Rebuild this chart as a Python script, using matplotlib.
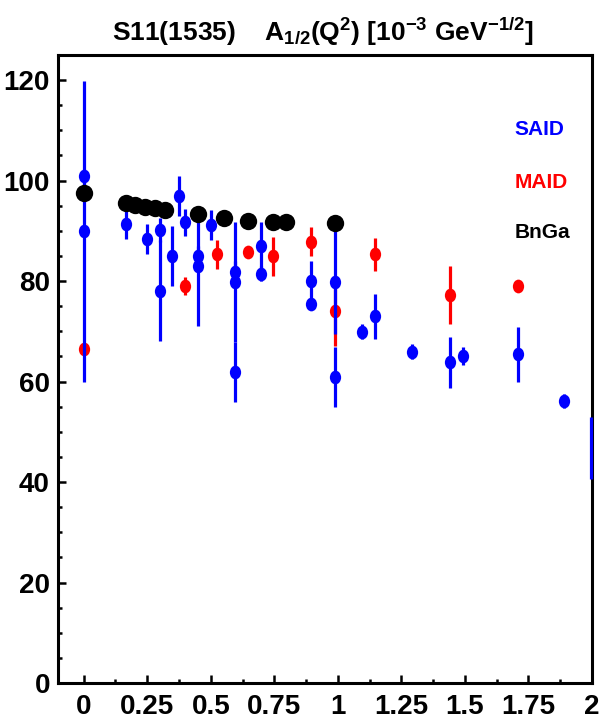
import matplotlib
matplotlib.use("Agg")
import matplotlib.pyplot as plt
from matplotlib.ticker import MultipleLocator
from matplotlib.markers import MarkerStyle
from matplotlib.transforms import Affine2D

plt.rcParams['font.family'] = ['Liberation Sans', 'DejaVu Sans']
plt.rcParams['font.weight'] = 'bold'
plt.rcParams['mathtext.fontset'] = 'custom'
plt.rcParams['mathtext.rm'] = 'Liberation Sans:bold'
plt.rcParams['mathtext.bf'] = 'Liberation Sans:bold'
plt.rcParams['mathtext.it'] = 'Liberation Sans:bold'

# SAID (blue)
said_q2 = [0.0, 0.0, 0.167, 0.25, 0.30, 0.30, 0.349, 0.375, 0.398, 0.45, 0.45,
           0.499, 0.596, 0.596, 0.596, 0.697, 0.697, 0.896, 0.896, 0.99, 0.99,
           1.094, 1.145, 1.293, 1.441, 1.491, 1.71, 1.888]
said_a = [100.9, 89.9, 91.3, 88.3, 90.2, 78.1, 85.0, 96.9, 91.7, 85.0, 83.0,
          91.2, 81.9, 79.8, 61.9, 87.0, 81.5, 80.1, 75.5, 79.9, 60.9,
          69.9, 73.0, 65.9, 63.8, 65.0, 65.4, 56.1]
said_err = [1.5, 30.0, 3.0, 3.0, 2.4, 10.0, 6.0, 4.0, 2.7, 2.0, 12.0,
            3.0, 2.0, 12.0, 6.0, 4.8, 1.5, 3.8, 1.0, 10.5, 6.0,
            1.5, 4.5, 1.5, 5.0, 1.8, 5.4, 1.4]

# SAID point off the right edge, only its error bar shows
said_edge_q2 = [1.997]
said_edge_a = [46.8]
said_edge_err = [6.1]

# MAID (red)
maid_q2 = [0.0, 0.398, 0.525, 0.647, 0.745, 0.896, 0.99, 1.145, 1.441, 1.71]
maid_a = [66.4, 79.1, 85.3, 85.8, 84.9, 87.8, 74.0, 85.3, 77.2, 79.1]
maid_err = [0.5, 1.8, 2.8, 0.5, 3.8, 2.9, 7.0, 3.2, 5.8, 0.5]

# BnGa (black)
bnga_q2 = [0.0, 0.167, 0.202, 0.241, 0.28, 0.32, 0.45, 0.55, 0.647, 0.745, 0.794, 0.99]
bnga_a = [97.6, 95.6, 95.1, 94.8, 94.5, 94.1, 93.3, 92.5, 92.0, 91.8, 91.8, 91.6]

oval = MarkerStyle('o', transform=Affine2D().scale(0.9, 1.1))

fig = plt.figure(figsize=(6.03, 7.21), dpi=100)
ax = fig.add_axes([0.0967, 0.0527, 0.8851, 0.871])

ax.errorbar(maid_q2, maid_a, yerr=maid_err, fmt='none', ecolor='#ff0000',
            elinewidth=2.3, capsize=0)
ax.plot(maid_q2, maid_a, ls='none', marker=oval, color='#ff0000', ms=9, mew=0)
ax.errorbar(said_q2, said_a, yerr=said_err, fmt='none', ecolor='#0000ff',
            elinewidth=2.3, capsize=0)
ax.plot(said_q2, said_a, ls='none', marker=oval, color='#0000ff', ms=9, mew=0)
edge = ax.errorbar(said_edge_q2, said_edge_a, yerr=said_edge_err, fmt='none',
                   ecolor='#0000ff', elinewidth=2.3, capsize=0, zorder=6)
for c in edge.lines[2]:
    c.set_clip_on(False)
ax.plot(bnga_q2, bnga_a, 'o', color='black', ms=12.5, mew=0, zorder=4)

ax.text(1.694, 110.2, 'SAID', color='#0000ff', fontsize=15, fontweight='bold', va='center')
ax.text(1.694, 99.7, 'MAID', color='#ff0000', fontsize=15, fontweight='bold', va='center')
ax.text(1.694, 89.7, 'BnGa', color='black', fontsize=15, fontweight='bold', va='center')

ax.set_xlim(-0.1, 2.0)
ax.set_ylim(0, 125)
ax.xaxis.set_minor_locator(MultipleLocator(0.125))
ax.yaxis.set_major_locator(MultipleLocator(20))
ax.yaxis.set_minor_locator(MultipleLocator(5))
ax.set_xticks([0, 0.25, 0.5, 0.75, 1, 1.25, 1.5, 1.75, 2])
ax.set_xticklabels(['0', '0.25', '0.5', '0.75', '1', '1.25', '1.5', '1.75', '2'])

ax.tick_params(which='both', direction='in', top=False, right=False, width=1.8,
               labelsize=20)
ax.tick_params(which='major', length=6)
ax.tick_params(which='minor', length=3)
ax.tick_params(axis='x', pad=8)
ax.tick_params(axis='y', pad=6)
for lbl in ax.get_xticklabels() + ax.get_yticklabels():
    lbl.set_fontweight('bold')
for s in ax.spines.values():
    s.set_linewidth(2.2)
    s.set_zorder(5)

fig.text(0.535, 0.955,
         r'S11(1535)    A$_{1/2}$(Q$^{2}$) [10$^{-3}$ GeV$^{-1/2}$]',
         ha='center', va='center', fontsize=19, fontweight='bold')

fig.savefig('out.png', dpi=100)
